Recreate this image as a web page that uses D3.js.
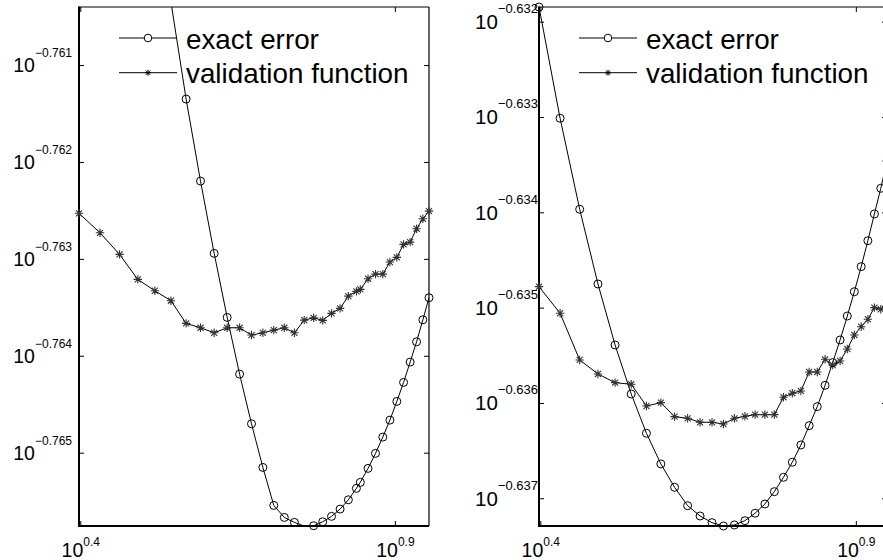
<!DOCTYPE html>
<html>
<head>
<meta charset="utf-8">
<script src="https://cdn.jsdelivr.net/npm/d3@7"></script>
<style>
  body { margin: 0; background: #fff; }
  svg { display: block; }
  text { font-family: "Liberation Sans", Arial, Helvetica, sans-serif; fill: #000; }
</style>
</head>
<body>
<svg id="chart" width="883" height="560"></svg>
<script>
// ---------- DATA (y given as base-10 exponents) ----------
const seriesNames = ["exact error", "validation function"];

// left panel
const xLeft = [2.5,2.7,2.9,3.1,3.3,3.5,3.7,3.9,4.1,4.3,4.5,4.7,4.9,5.1,5.3,5.5,5.7,5.9,6.1,6.3,6.5,6.7,6.9,7.0,7.2,7.4,7.6,7.8,8.0,8.2,8.4,8.6,8.8,9.0];
const exactLeftExp = [-0.75356,-0.75518,-0.75666,-0.75801,-0.75924,-0.76035,-0.761351,-0.762197,-0.762943,-0.763604,-0.764189,-0.764702,-0.765152,-0.765544,-0.765668,-0.765719,-0.765757,-0.765754,-0.765713,-0.765657,-0.765582,-0.765486,-0.765368,-0.765306,-0.765162,-0.765007,-0.764839,-0.764664,-0.764471,-0.764275,-0.764065,-0.763856,-0.763629,-0.763401];
const validLeftExp = [-0.762530,-0.762731,-0.762954,-0.763212,-0.763329,-0.763432,-0.763666,-0.763711,-0.763763,-0.763711,-0.763711,-0.763786,-0.763763,-0.763735,-0.763711,-0.763763,-0.763632,-0.763608,-0.763635,-0.763562,-0.763511,-0.763384,-0.763335,-0.763315,-0.763205,-0.763157,-0.763157,-0.763033,-0.762985,-0.762850,-0.762827,-0.762689,-0.762586,-0.762507];
const xLimLeft = [2.5, 9.0];
const yLimLeftExp = [-0.7657565, -0.760401];
const yTicksLeftExp = [-0.765, -0.764, -0.763, -0.762, -0.761];

// right panel
const xRight = [2.5,2.7,2.9,3.1,3.3,3.5,3.7,3.9,4.1,4.3,4.5,4.7,4.9,5.1,5.3,5.5,5.7,5.9,6.1,6.3,6.5,6.7,6.9,7.1,7.3,7.5,7.7,7.9,8.1,8.3,8.5,8.7,8.9];
const exactRightExp = [-0.631846,-0.633013,-0.633968,-0.634752,-0.635392,-0.635906,-0.636318,-0.636640,-0.636885,-0.637078,-0.637186,-0.637256,-0.637291,-0.637280,-0.637235,-0.637157,-0.637060,-0.636931,-0.636780,-0.636622,-0.636441,-0.636238,-0.636039,-0.635815,-0.635577,-0.635339,-0.635088,-0.634833,-0.634570,-0.634298,-0.634017,-0.633748,-0.633461];
const validRightExp = [-0.634780,-0.635059,-0.635549,-0.635696,-0.635787,-0.635804,-0.636032,-0.635997,-0.636144,-0.636161,-0.636203,-0.636203,-0.636221,-0.636161,-0.636140,-0.636123,-0.636123,-0.636123,-0.635940,-0.635898,-0.635874,-0.635675,-0.635675,-0.635542,-0.635602,-0.635560,-0.635434,-0.635287,-0.635200,-0.635122,-0.635000,-0.635017,-0.634920];
const xLimRight = [2.5, 8.9];
const yLimRightExp = [-0.637291, -0.631846];
const yTicksRightExp = [-0.637, -0.636, -0.635, -0.634, -0.633, -0.632];

const xTicksExp = [0.4, 0.9];

// ---------- DRAWING ----------
const svg = d3.select("#chart");
const pow10 = e => Math.pow(10, e);
const fmtExp = e => (e < 0 ? "\u2212" : "") + Math.abs(e).toString();

const panels = [
  { left: 79, width: 350, x: xLeft, exact: exactLeftExp, valid: validLeftExp,
    xLim: xLimLeft, yLim: yLimLeftExp, yTicks: yTicksLeftExp,
    labelRight: 72, baseFs: 19.5, supFs: 12, supDy: -15 },
  { left: 539, width: 348, x: xRight, exact: exactRightExp, valid: validRightExp,
    xLim: xLimRight, yLim: yLimRightExp, yTicks: yTicksRightExp,
    labelRight: 538, baseFs: 20.5, supFs: 13, supDy: -16 }
];
const plotTop = 7, plotBottom = 526;

function asteriskPath(s) {
  const d = s * 0.72;
  return `M${-s},0H${s}M0,${-s}V${s}M${-d},${-d}L${d},${d}M${-d},${d}L${d},${-d}`;
}

panels.forEach((p, i) => {
  const x = d3.scaleLog().domain(p.xLim).range([p.left, p.left + p.width]);
  const y = d3.scaleLog().domain(p.yLim.map(pow10)).range([plotBottom, plotTop]);
  const g = svg.append("g");

  const clipId = "clip" + i;
  svg.append("clipPath").attr("id", clipId).append("rect")
    .attr("x", p.left).attr("y", plotTop).attr("width", p.width).attr("height", plotBottom - plotTop);

  // ticks (inward) on all four sides
  const yVals = p.yTicks.map(pow10);
  const xVals = xTicksExp.map(pow10);
  const axL = g.append("g").attr("transform", `translate(${p.left},0)`)
    .call(d3.axisLeft(y).tickValues(yVals).tickSize(-5).tickFormat(""));
  const axR = g.append("g").attr("transform", `translate(${p.left + p.width},0)`)
    .call(d3.axisRight(y).tickValues(yVals).tickSize(-5).tickFormat(""));
  const axB = g.append("g").attr("transform", `translate(0,${plotBottom})`)
    .call(d3.axisBottom(x).tickValues(xVals).tickSize(-5).tickFormat(""));
  const axT = g.append("g").attr("transform", `translate(0,${plotTop})`)
    .call(d3.axisTop(x).tickValues(xVals).tickSize(-5).tickFormat(""));
  [axL, axR, axB, axT].forEach(a => {
    a.select(".domain").remove();
    a.selectAll("line").attr("stroke", "#000").attr("stroke-width", 1);
  });

  // frame
  g.append("line").attr("x1", p.left).attr("x2", p.left + p.width).attr("y1", plotTop).attr("y2", plotTop)
    .attr("stroke", "#000").attr("stroke-width", 1.2);
  g.append("line").attr("x1", p.left + p.width).attr("x2", p.left + p.width).attr("y1", plotTop).attr("y2", plotBottom)
    .attr("stroke", "#000").attr("stroke-width", 1.2);
  g.append("line").attr("x1", p.left).attr("x2", p.left).attr("y1", plotTop - 0.6).attr("y2", plotBottom + 1)
    .attr("stroke", "#000").attr("stroke-width", 2);
  g.append("line").attr("x1", p.left - 1).attr("x2", p.left + p.width).attr("y1", plotBottom).attr("y2", plotBottom)
    .attr("stroke", "#000").attr("stroke-width", 2);

  // y tick labels: 10^{e}
  p.yTicks.forEach(e => {
    const t = g.append("text").attr("x", p.labelRight).attr("y", y(pow10(e)) + p.baseFs * 0.36)
      .attr("text-anchor", "end");
    t.append("tspan").attr("font-size", p.baseFs).text("10");
    t.append("tspan").attr("font-size", p.supFs).attr("dy", p.supDy).text(fmtExp(e));
  });
  // x tick labels
  xTicksExp.forEach(e => {
    const t = g.append("text").attr("x", x(pow10(e)) + 0.5).attr("y", plotBottom + 31)
      .attr("text-anchor", "middle");
    t.append("tspan").attr("font-size", 19.5).text("10");
    t.append("tspan").attr("font-size", 12).attr("dy", -11).text(fmtExp(e));
  });

  // series
  const exactPts = p.x.map((v, k) => [v, pow10(p.exact[k])]);
  const validPts = p.x.map((v, k) => [v, pow10(p.valid[k])]);
  const line = d3.line().x(d => x(d[0])).y(d => y(d[1]));
  const yMin = pow10(p.yLim[0]) * 0.999999, yMax = pow10(p.yLim[1]) * 1.000001;
  const inside = d => d[1] >= yMin && d[1] <= yMax;

  const plot = g.append("g");
  plot.append("path").datum(validPts).attr("d", line).attr("clip-path", `url(#${clipId})`)
    .attr("fill", "none").attr("stroke", "#000").attr("stroke-width", 1);
  plot.append("path").datum(exactPts).attr("d", line).attr("clip-path", `url(#${clipId})`)
    .attr("fill", "none").attr("stroke", "#000").attr("stroke-width", 1);

  plot.selectAll(".ast").data(validPts.filter(inside)).enter().append("path")
    .attr("transform", d => `translate(${x(d[0])},${y(d[1])})`)
    .attr("d", asteriskPath(4.2)).attr("stroke", "#333").attr("stroke-width", 1.1).attr("fill", "none");
  plot.selectAll(".circ").data(exactPts.filter(inside)).enter().append("circle")
    .attr("cx", d => x(d[0])).attr("cy", d => y(d[1])).attr("r", 4)
    .attr("fill", "none").attr("stroke", "#000").attr("stroke-width", 1);

  // legend (no box)
  const lg = g.append("g");
  const rows = [38, 72.7];
  seriesNames.forEach((name, k) => {
    const ly = rows[k];
    lg.append("line").attr("x1", p.left + 40).attr("x2", p.left + 98).attr("y1", ly).attr("y2", ly)
      .attr("stroke", "#000").attr("stroke-width", 1);
    if (k === 0) {
      lg.append("circle").attr("cx", p.left + 69).attr("cy", ly).attr("r", 3.8)
        .attr("fill", "#fff").attr("stroke", "#000").attr("stroke-width", 1);
    } else {
      lg.append("path").attr("transform", `translate(${p.left + 69},${ly})`)
        .attr("d", asteriskPath(3)).attr("stroke", "#000").attr("stroke-width", 1).attr("fill", "none");
    }
    lg.append("text").attr("x", p.left + 107).attr("y", ly + 10.5).attr("font-size", 27.8).text(name);
  });
});
</script>
</body>
</html>
